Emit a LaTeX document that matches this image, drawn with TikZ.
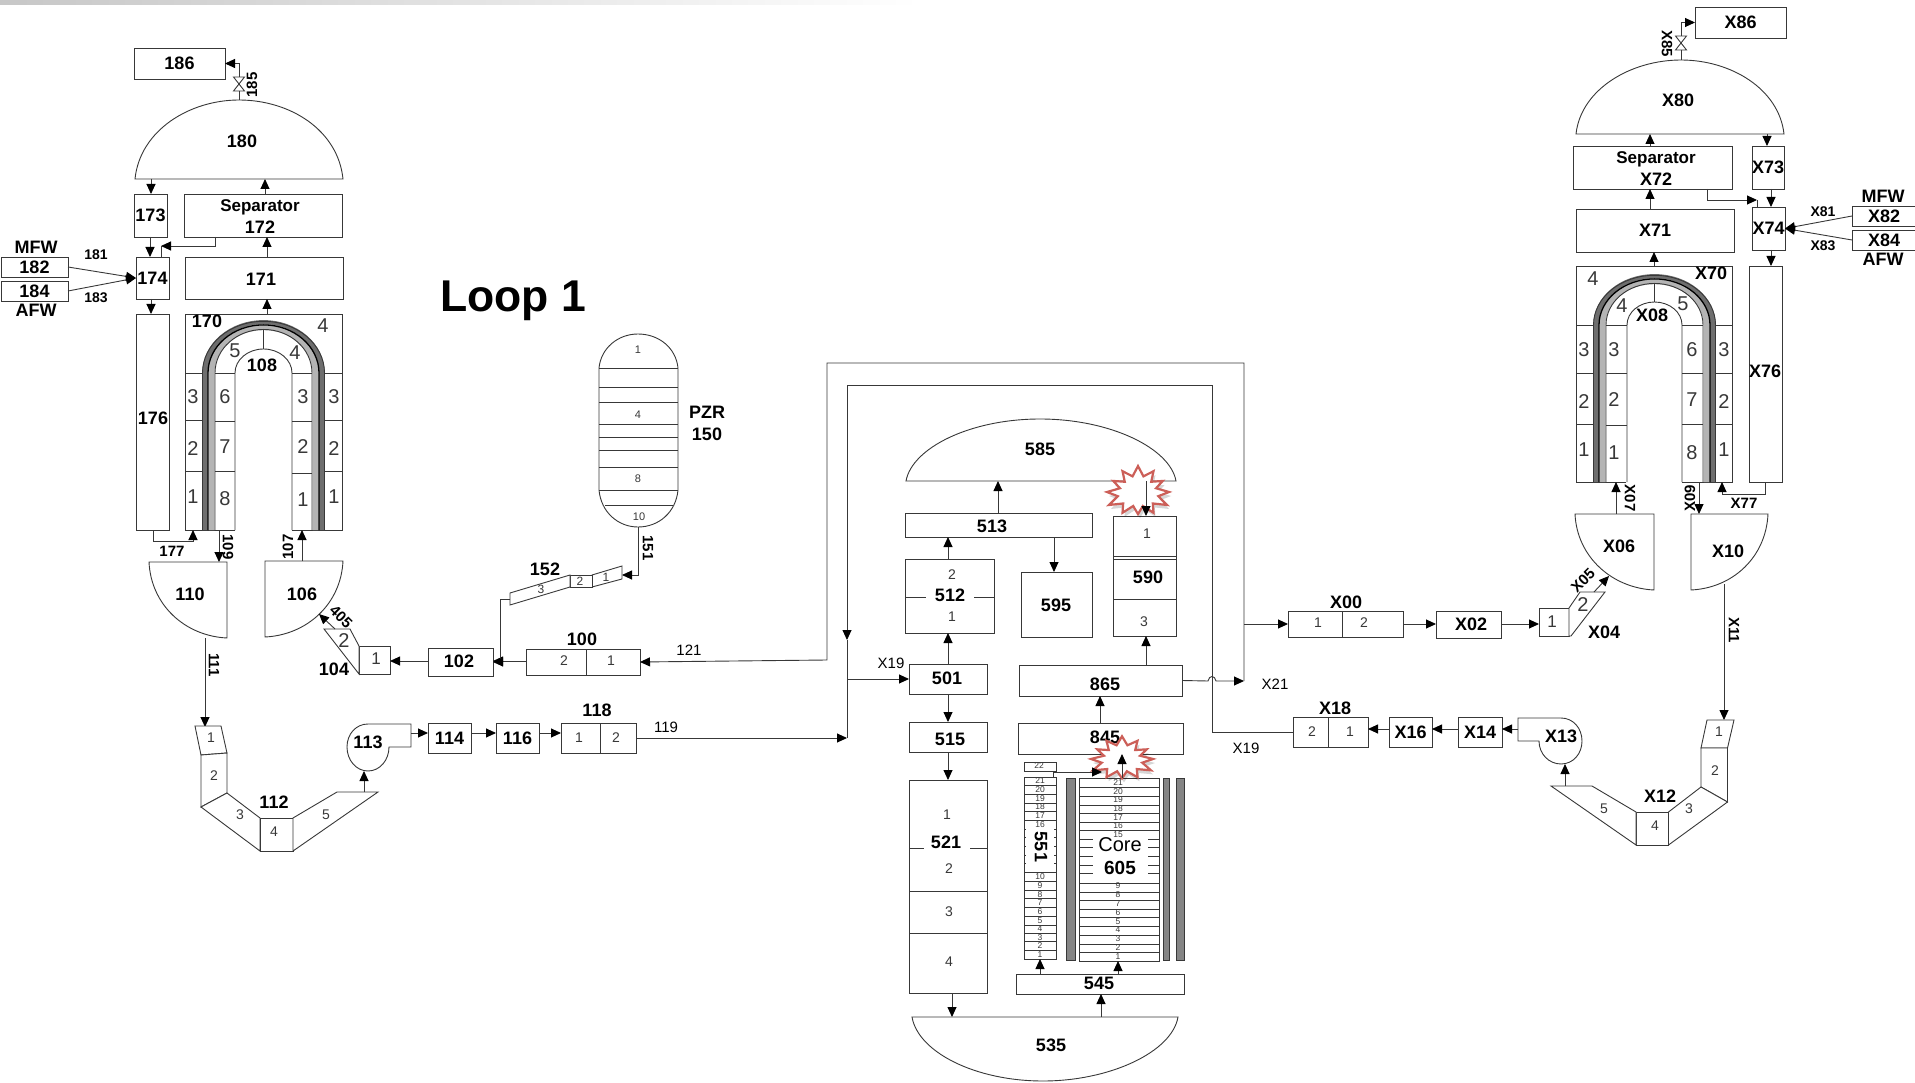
\documentclass[tikz,border=0pt]{standalone}
\usepackage{fontspec}
\setmainfont{Liberation Sans}
\usetikzlibrary{arrows.meta,calc}
\definecolor{ink}{HTML}{383838}
\definecolor{darkbar}{HTML}{858585}
\definecolor{tubedark}{HTML}{6E6E6E}
\definecolor{lightbar}{HTML}{B4B4B4}
\definecolor{burstred}{HTML}{CC5F58}
\newcounter{lblc}
\tikzset{
 ln/.style={draw=ink,line width=0.9pt},
 arr/.style={ln,-{Triangle[length=10pt,width=9pt,color=black]}},
 bxs/.style={draw=ink,line width=0.9pt,fill=white,inner sep=0pt,outer sep=0pt,text=black,font=\fontsize{18}{20}\selectfont\bfseries},
 gst/.style={inner sep=0pt,outer sep=0pt,text=black,font=\fontsize{18}{20}\selectfont\bfseries},
 lb/.style={inner sep=0pt,text=black,font=\fontsize{18}{20}\selectfont\bfseries},
 lbs/.style={inner sep=0pt,text=black,font=\fontsize{17}{20}\selectfont\bfseries},
 lsm/.style={inner sep=0pt,text=black,font=\fontsize{15}{16}\selectfont\bfseries},
 lfw/.style={inner sep=0pt,text=black,font=\fontsize{14}{16}\selectfont\bfseries},
 lrg/.style={inner sep=0pt,text=black,font=\fontsize{15}{16}\selectfont},
 lnum/.style={inner sep=0pt,text=ink,font=\fontsize{14}{16}\selectfont},
 lcell/.style={inner sep=0pt,text=ink,font=\fontsize{20}{22}\selectfont},
 lpzr/.style={inner sep=0pt,text=ink,font=\fontsize{11}{13}\selectfont},
 ltiny/.style={inner sep=0pt,text=ink,font=\fontsize{8.5}{9}\selectfont},
 lcore/.style={inner sep=0pt,text=black,font=\fontsize{20}{24}\selectfont},
 lcoreb/.style={inner sep=0pt,text=black,font=\fontsize{19}{24}\selectfont\bfseries},
 lloop/.style={inner sep=0pt,text=black,font=\fontsize{44.5}{46}\selectfont\bfseries},
 burstst/.style={draw=burstred,line width=2.2pt,fill=white,line join=miter},
 burstsh/.style={fill=black,opacity=0.16},
}
% box: name x0 y0 x1 y1 text
\newcommand\bx[6]{\node[bxs,minimum width={#4-#2},minimum height={#5-#3}] (#1) at ({(#2+#4)/2},{(#3+#5)/2}) {\makebox[0pt]{#6}};}
% invisible frame of a drawn shape, so that connectors can name it
\newcommand\gh[6]{\node[gst,minimum width={#4-#2},minimum height={#5-#3}] (#1) at ({(#2+#4)/2},{(#3+#5)/2}) {\makebox[0pt]{#6}};}
\newcommand\tx[4][lb]{\stepcounter{lblc}\node[#1] (t\arabic{lblc}) at ({#2},{#3}) {#4};}
\newcommand\vc[3]{\draw[arr] (#1,0 |- #2) -- (#1,0 |- #3);}
\newcommand\hc[3]{\draw[arr] (#2 |- 0,#1) -- (#3 |- 0,#1);}
\newcommand\tube[7]{%
 \pgfmathsetmacro\tbA{#1+#6}\pgfmathsetmacro\tbB{#2-#6}\pgfmathsetmacro\tbT{#3+#6*0.65}%
 \pgfmathsetmacro\tbM{(#1+#2)/2}\pgfmathsetmacro\tbK{(\tbB-\tbA)/2*0.5523}\pgfmathsetmacro\tbL{(#4-\tbT)*0.5523}%
 \draw[#7] (\tbA,#5) -- (\tbA,#4) .. controls (\tbA,{#4-\tbL}) and ({\tbM-\tbK},\tbT) .. (\tbM,\tbT)
   .. controls ({\tbM+\tbK},\tbT) and (\tbB,{#4-\tbL}) .. (\tbB,#4) -- (\tbB,#5);}
\newcommand\uband[5]{%
 \tube{#1}{#2}{#3}{#4}{#5}{3.2}{draw=tubedark,line width=6pt}
 \tube{#1}{#2}{#3}{#4}{#5}{9.5}{draw=lightbar,line width=6pt}
 \tube{#1}{#2}{#3}{#4}{#5}{0.5}{ln}
 \tube{#1}{#2}{#3}{#4}{#5}{6}{draw=black,line width=1.3pt}
 \tube{#1}{#2}{#3}{#4}{#5}{13}{ln}}
\newcommand\burst[4]{%
 \fill[burstsh] plot[samples at={0,15,...,345},variable=\a] ({#1+2+#3*(1-0.36*mod(round(\a/15),2))*(1+0.08*sin(3*\a))*cos(\a)},{#2+4+#4*(1-0.36*mod(round(\a/15),2))*(1+0.08*sin(3*\a))*sin(\a)}) -- cycle;
 \draw[burstst] plot[samples at={0,15,...,345},variable=\a] ({#1+#3*(1-0.36*mod(round(\a/15),2))*(1+0.08*sin(3*\a))*cos(\a)},{#2+#4*(1-0.36*mod(round(\a/15),2))*(1+0.08*sin(3*\a))*sin(\a)}) -- cycle;}
\newcommand\valve[3]{\draw[ln,fill=white] ({#1-5.5},#2) -- ({#1+5.5},#2) -- ({#1-5.5},#3) -- ({#1+5.5},#3) -- cycle;}
\begin{document}
\begin{tikzpicture}[x=1pt,y=-1pt]
\useasboundingbox (0,0) rectangle (1915,1083);
\shade[left color=black!22,right color=white] (0,0) rectangle (920,5);
\tx[lloop]{513}{301}{Loop 1}

%% ---------- left steam generator ----------
\bx{n186}{134}{48}{225}{79}{186}
\gh{n180}{135}{100}{343}{179}{}
\draw[ln,fill=white] (135,179) .. controls (140,130) and (190,100) .. (239,100) .. controls (290,100) and (338,130) .. (343,179) -- cycle;
\tx{242}{141}{180}
\valve{239}{77}{91}
\coordinate (v185t) at (239,77); \coordinate (v185b) at (239,91);
\draw[ln] (v185b) -- (239,0 |- n180.north);
\draw[arr] (v185t) |- (n186.east);
\tx[lsm,rotate=90]{252}{85}{185}
\bx{n173}{134}{194}{167}{237}{173}
\bx{n172}{184}{194}{342}{237}{}
\tx[lbs]{260}{207}{Separator}
\tx[lb]{260}{227}{172}
\bx{n174}{136}{257}{169}{299}{174}
\bx{n171}{185}{257}{343}{299}{}
\tx{261}{279}{171}
\bx{n176}{136}{314}{169}{530}{}
\tx{153}{418}{176}
\bx{n182}{1}{257}{68}{277}{182}
\bx{n184}{1}{281}{68}{301}{184}
\tx{36}{247}{MFW}
\tx{36}{310}{AFW}
\tx[lfw]{96}{255}{181}
\tx[lfw]{96}{298}{183}
\draw[arr] (n182.east) -- (n174.west);
\draw[arr] (n184.east) -- (n174.west);
\vc{150}{n173.south}{n174.north}
\coordinate (c172) at (161,246);
\draw[arr] (215,0 |- n172.south) |- (c172);
\draw[ln] (c172) -- (161,0 |- n174.north);
\vc{151}{n180.south}{n173.north}
\vc{265}{n172.north}{n180.south}
\vc{267}{n171.north}{n172.south}
\vc{151}{n174.south}{n176.north}
% 170
\gh{n170}{185}{314}{342}{530}{}
\vc{267}{n170.north}{n171.south}
\draw[ln] (235,530) -- (185,530) -- (185,314) -- (342,314) -- (342,530) -- (292,530);
\uband{202}{325}{321}{373}{530}
\tube{235}{292}{349}{373}{530}{0}{ln}
\draw[ln] (263,330) -- (263,349);
\foreach \yy in {373,420,471}{\draw[ln] (185,\yy) -- (202,\yy); \draw[ln] (325,\yy) -- (342,\yy);}
\foreach \yy in {373,421,471}{\draw[ln] (215,\yy) -- (235,\yy);}
\foreach \yy in {373,421,473}{\draw[ln] (292,\yy) -- (312,\yy);}
\tx{207}{321}{170}
\tx[lcell]{323}{326}{4}
\tx[lcell]{235}{351}{5}
\tx[lcell]{295}{353}{4}
\tx{262}{365}{108}
\foreach \t/\yy in {3/397,2/449,1/497}{\tx[lcell]{193}{\yy}{\t}\tx[lcell]{334}{\yy}{\t}}
\foreach \t/\yy in {6/397,7/447,8/499}{\tx[lcell]{225}{\yy}{\t}}
\foreach \t/\yy in {3/397,2/447,1/500}{\tx[lcell]{303}{\yy}{\t}}
% 177
\coordinate (c177a) at (153,541); \coordinate (c177b) at (193,541);
\draw[arr] (153,0 |- n176.south) -- (c177a) -- (c177b) -- (193,0 |- n170.south);
\tx[lsm]{172}{551}{177}
% 110 / 106
\gh{n110}{149}{562}{227}{638}{}
\draw[ln,fill=white] (149,562) -- (227,562) -- (227,638) .. controls (185,636) and (151,605) .. cycle;
\tx{190}{594}{110}
\gh{n106}{265}{561}{343}{637}{}
\draw[ln,fill=white] (343,561) -- (265,561) -- (265,637) .. controls (307,635) and (341,604) .. cycle;
\tx{302}{594}{106}
\vc{219}{n170.south}{n110.north}
\vc{302}{n106.north}{n170.south}
\tx[lsm,rotate=-90]{228}{547}{109}
\tx[lsm,rotate=90]{288}{547}{107}
\coordinate (p1t) at (205,727);
\vc{205}{n110.south}{p1t}
\tx[lsm,rotate=-90]{214}{665}{111}

%% ---------- 112 ----------
\draw[ln,fill=white] (195,726) -- (221,726) -- (227,753) -- (201,755) -- cycle;
\draw[ln,fill=white] (201,755) -- (227,753) -- (227,793) -- (201,807) -- cycle;
\draw[ln,fill=white] (201,807) -- (227,793) -- (260,818) -- (260,851) -- cycle;
\bx{n1124}{260}{818}{293}{851}{}
\draw[ln,fill=white] (293,818) -- (337,792) -- (378,792) -- (293,851) -- cycle;
\tx[lnum]{211}{738}{1}
\tx[lnum]{214}{776}{2}
\tx[lnum]{240}{815}{3}
\tx[lnum]{274}{832}{4}
\tx[lnum]{326}{815}{5}
\tx{274}{802}{112}
\coordinate (p5t) at (364,792);
% 113
\gh{n113}{347}{724}{411}{771}{}
\draw[ln,fill=white] (411,724) -- (368,724) .. controls (356,724) and (347,734) .. (347,747) .. controls (347,760) and (356,771) .. (368,771) .. controls (380,771) and (389,760) .. (389,747) -- (411,747) -- cycle;
\tx{368}{742}{113}
\vc{364}{p5t}{n113.south}
\bx{n114}{428}{723}{471}{753}{114}
\bx{n116}{496}{723}{539}{753}{116}
\bx{n118}{561}{723}{636}{753}{}
\draw[ln] (600,723) -- (600,753);
\tx[lnum]{579}{738}{1}
\tx[lnum]{616}{738}{2}
\tx{597}{710}{118}
\hc{733}{n113.east}{n114.west}
\hc{733}{n114.east}{n116.west}
\hc{733}{n116.east}{n118.west}
\tx[lrg]{666}{727}{119}

%% ---------- 104, 102, 100, 152, pressurizer ----------
\bx{n104}{359}{646}{390}{674}{}
\draw[ln,fill=white] (324,629) -- (350,629) -- (359,646) -- (359,674) -- cycle;
\tx[lcell]{344}{641}{2}
\tx[lnum,font=\fontsize{17}{18}\selectfont]{376}{659}{1}
\tx{334}{669}{104}
\coordinate (c405) at (335,629); \coordinate (c405t) at (319,614);
\draw[arr] (c405) -- (c405t);
\tx[lsm,rotate=-45]{341}{617}{405}
\bx{n102}{428}{648}{493}{676}{}
\tx{459}{661}{102}
\bx{n100}{526}{649}{640}{675}{}
\draw[ln] (586,649) -- (586,675);
\tx[lnum]{564}{661}{2}
\tx[lnum]{611}{661}{1}
\tx{582}{639}{100}
\hc{661}{n102.west}{n104.east}
\hc{661}{n100.west}{n102.east}
\draw[ln,fill=white] (592,575) -- (622,566) -- (622,579) -- (592,587) -- cycle;
\bx{n1522}{570}{575}{592}{587}{}
\draw[ln,fill=white] (510,593) -- (570,575) -- (570,587) -- (510,605) -- cycle;
\tx[lnum,font=\fontsize{12}{13}\selectfont]{606}{577}{1}
\tx[lnum,font=\fontsize{12}{13}\selectfont]{580}{581}{2}
\tx[lnum,font=\fontsize{12}{13}\selectfont]{541}{589}{3}
\tx{545}{569}{152}
\coordinate (c152l) at (510,599); \coordinate (c152r) at (622,575);
\draw[ln] (c152l) -- (500,599) -- (500,662);
\draw[arr] (500,662) -- (n102.east);
% PZR
\gh{n150}{599}{334}{678}{527}{}
\draw[ln,fill=white] (599,368) .. controls (601,348) and (618,334) .. (638,334) .. controls (659,334) and (676,348) .. (678,368) -- (678,490) .. controls (676,512) and (659,527) .. (638,527) .. controls (618,527) and (601,512) .. (599,490) -- cycle;
\foreach \yy in {368,387,402,424,437,450,467,490}{\draw[ln] (599,\yy) -- (678,\yy);}
\draw[ln] (605,505) -- (673,505);
\tx[lpzr]{638}{350}{1}
\tx[lpzr]{638}{415}{4}
\tx[lpzr]{638}{479}{8}
\tx[lpzr]{639}{517}{10}
\tx{707}{412}{PZR}
\tx{707}{434}{150}
\draw[arr] (n150.south) |- (c152r);
\tx[lsm,rotate=-90]{648}{548}{151}
\tx[lrg]{689}{650}{121}
\tx[lrg]{891}{663}{X19}
\tx[lrg]{1275}{684}{X21}
\tx[lrg]{1246}{748}{X19}

%% ---------- reactor vessel ----------
\gh{n585}{906}{419}{1176}{481}{}
\draw[ln,fill=white] (906,481) .. controls (912,448) and (970,419) .. (1040,419) .. controls (1110,419) and (1170,448) .. (1176,481) -- cycle;
\tx{1040}{449}{585}
\bx{n513}{905}{513}{1092}{537}{}
\tx{992}{526}{513}
\bx{n512}{905}{559}{994}{633}{}
\draw[ln] (905,597) -- (926,597) (974,597) -- (994,597);
\tx[lnum]{952}{575}{2}
\tx{950}{595}{512}
\tx[lnum]{952}{617}{1}
\bx{n595}{1021}{572}{1092}{637}{}
\tx{1056}{605}{595}
\bx{n590}{1113}{516}{1176}{636}{}
\draw[ln] (1113,556) -- (1176,556) (1113,559) -- (1176,559) (1113,599) -- (1176,599);
\tx[lnum]{1147}{534}{1}
\tx{1148}{577}{590}
\tx[lnum]{1144}{622}{3}
\bx{n865}{1019}{665}{1182}{696}{}
\tx{1105}{684}{865}
\bx{n845}{1018}{723}{1183}{754}{}
\tx{1105}{737}{845}
\bx{n501}{909}{664}{987}{694}{}
\tx{947}{678}{501}
\bx{n515}{909}{722}{987}{752}{}
\tx{950}{739}{515}
\bx{n521}{909}{780}{987}{993}{}
\draw[ln] (909,848) -- (924,848) (970,848) -- (987,848) (909,891) -- (987,891) (909,933) -- (987,933);
\tx[lnum]{947}{815}{1}
\tx{946}{842}{521}
\tx[lnum]{949}{869}{2}
\tx[lnum]{949}{912}{3}
\tx[lnum]{949}{962}{4}
\gh{n535}{912}{1017}{1178}{1081}{}
\draw[ln,fill=white] (912,1017) -- (1178,1017) .. controls (1172,1052) and (1110,1081) .. (1043,1081) .. controls (975,1081) and (918,1052) .. cycle;
\tx{1051}{1045}{535}
\bx{n545}{1016}{974}{1184}{994}{}
\tx{1099}{983}{545}
% 551
\bx{n55122}{1024}{762}{1056}{771}{}
\tx[ltiny]{1039}{766}{22}
\gh{n551}{1024}{777}{1056}{959}{}
\draw[ln] (1024,777) rectangle (1056,959);
\foreach \z in {137,163,189,215,241,397,423,450,476,503,530,556,580,605,630}{\draw[ln] (1024,{740+\z/3}) -- (1056,{740+\z/3});}
\foreach \z in {267,293,319,345,371}{\draw[ln] (1024,{740+\z/3}) -- (1026,{740+\z/3}) (1054,{740+\z/3}) -- (1056,{740+\z/3});}
\foreach \z/\t in {122/21,150/20,175/19,200/18,228/17,254/16,410/10,437/9,463/8,489/7,516/6,542/5,566/4,592/3,617/2,643/1}{\tx[ltiny]{1040}{740+\z/3}{\t}}
\tx[lb,rotate=-90]{1041}{847}{551}
% bars
\fill[darkbar,draw=ink] (1066,778) rectangle (1075,960);
\fill[darkbar,draw=ink] (1163,778) rectangle (1169,960);
\fill[darkbar,draw=ink] (1176,778) rectangle (1184,960);
% core
\gh{n605}{1079}{778}{1159}{961}{}
\draw[ln] (1079,778) rectangle (1159,961);
\foreach \z in {142,168,195,220,246,272,429,456,481,507,533,560,586,612,637}{\draw[ln] (1079,{740+\z/3}) -- (1159,{740+\z/3});}
\foreach \z in {297,323,349,375,401}{\draw[ln] (1079,{740+\z/3}) -- (1093,{740+\z/3}) (1148,{740+\z/3}) -- (1159,{740+\z/3});}
\foreach \z/\t in {128/21,155/20,180/19,207/18,232/17,258/16,285/15,437/9,465/8,492/7,518/6,544/5,570/4,597/3,622/2,650/1}{\tx[ltiny]{1118}{740+\z/3}{\t}}
\tx[lcore]{1120}{845}{Core}
\tx[lcoreb]{1120}{868}{605}
% bursts
\burst{1138}{492}{31}{24}
\burst{1122}{759}{31}{21}
% vessel connectors
\vc{998}{n513.north}{n585.south}
\vc{948}{n512.north}{n513.south}
\vc{1054}{n513.south}{n595.north}
\vc{948}{n501.north}{n512.south}
\vc{948}{n501.south}{n515.north}
\vc{948}{n515.south}{n521.north}
\vc{952}{n521.south}{n535.north}
\vc{1101}{n535.north}{n545.south}
\vc{1146}{n585.south}{n590.north}
\vc{1146}{n865.north}{n590.south}
\vc{1100}{n845.north}{n865.south}
\vc{1040}{n545.north}{n551.south}
\vc{1118}{n545.north}{n605.south}
\vc{1122}{n605.north}{n845.south}
\coordinate (c22) at (1053,772);
\draw[ln] (1053,0 |- n551.north) -- (1053,0 |- n55122.south);
\draw[arr] (c22) -- (1102,772);

%% ---------- right steam generator ----------
\bx{nX86}{1695}{7}{1786}{38}{X86}
\gh{nX80}{1576}{60}{1784}{134}{}
\draw[ln,fill=white] (1576,134) .. controls (1581,89) and (1631,60) .. (1681,60) .. controls (1731,60) and (1779,89) .. (1784,134) -- cycle;
\tx{1678}{100}{X80}
\valve{1681}{36}{50}
\coordinate (vX85t) at (1681,36); \coordinate (vX85b) at (1681,50);
\draw[ln] (vX85b) -- (1681,0 |- nX80.north);
\draw[arr] (vX85t) |- (nX86.west);
\tx[lsm,rotate=-90]{1667}{44}{X85}
\bx{nX72}{1573}{146}{1732}{189}{}
\tx[lbs]{1656}{159}{Separator}
\tx{1656}{179}{X72}
\bx{nX73}{1752}{146}{1784}{189}{X73}
\bx{nX74}{1752}{207}{1785}{250}{X74}
\bx{nX71}{1576}{209}{1734}{252}{X71}
\bx{nX76}{1749}{266}{1782}{482}{}
\tx{1765}{371}{X76}
\bx{nX82}{1852}{206}{1916}{226}{X82}
\bx{nX84}{1852}{230}{1916}{250}{X84}
\tx{1883}{196}{MFW}
\tx{1883}{259}{AFW}
\tx[lfw]{1823}{212}{X81}
\tx[lfw]{1823}{246}{X83}
\draw[arr] (nX82.west) -- (nX74.east);
\draw[arr] (nX84.west) -- (nX74.east);
\vc{1767}{nX80.south}{nX73.north}
\vc{1650}{nX72.north}{nX80.south}
\vc{1650}{nX71.north}{nX72.south}
\vc{1771}{nX73.south}{nX74.north}
\vc{1771}{nX74.south}{nX76.north}
\coordinate (cX72) at (1757,200);
\draw[arr] (1707,0 |- nX72.south) |- (cX72);
\draw[ln] (cX72) -- (1757,0 |- nX74.north);
% X70
\gh{nX70}{1576}{266}{1732}{482}{}
\vc{1654}{nX70.north}{nX71.south}
\draw[ln] (1626,482) -- (1576,482) -- (1576,266) -- (1732,266) -- (1732,482) -- (1682,482);
\uband{1593}{1716}{275}{325}{482}
\tube{1627}{1682}{302}{325}{482}{0}{ln}
\draw[ln] (1654,283) -- (1654,302);
\foreach \yy in {325,373,424}{\draw[ln] (1576,\yy) -- (1593,\yy); \draw[ln] (1716,\yy) -- (1732,\yy); \draw[ln] (1682,\yy) -- (1703,\yy);}
\foreach \yy in {325,373,425}{\draw[ln] (1606,\yy) -- (1627,\yy);}
\tx[lcell]{1593}{279}{4}
\tx{1711}{273}{X70}
\tx[lcell]{1622}{306}{4}
\tx[lcell]{1683}{304}{5}
\tx{1652}{315}{X08}
\foreach \t/\yy in {3/350,2/402,1/450}{\tx[lcell]{1584}{\yy}{\t}\tx[lcell]{1724}{\yy}{\t}}
\foreach \t/\yy in {3/350,2/400,1/453}{\tx[lcell]{1614}{\yy}{\t}}
\foreach \t/\yy in {6/350,7/400,8/453}{\tx[lcell]{1692}{\yy}{\t}}
\coordinate (cX77a) at (1765,494); \coordinate (cX77b) at (1722,494);
\draw[arr] (1765,0 |- nX76.south) -- (cX77a) -- (cX77b) -- (1722,0 |- nX70.south);
\tx[lsm]{1744}{503}{X77}
% X06 / X10
\gh{nX06}{1575}{514}{1654}{590}{}
\draw[ln,fill=white] (1575,514) -- (1654,514) -- (1654,590) .. controls (1612,588) and (1577,557) .. cycle;
\tx{1619}{546}{X06}
\gh{nX10}{1691}{514}{1768}{590}{}
\draw[ln,fill=white] (1768,514) -- (1691,514) -- (1691,590) .. controls (1733,588) and (1766,557) .. cycle;
\tx{1728}{551}{X10}
\vc{1616}{nX06.north}{nX70.south}
\vc{1699}{nX70.south}{nX10.north}
\tx[lsm,rotate=-90]{1630}{498}{X07}
\tx[lsm,rotate=90]{1690}{498}{X09}
\coordinate (pX1t) at (1724,720);
\coordinate (cX10b) at (1724,584);
\draw[arr] (cX10b) -- (pX1t);
\tx[lsm,rotate=-90]{1734}{630}{X11}
% X12
\draw[ln,fill=white] (1707,720) -- (1734,720) -- (1727.5,748) -- (1701,748) -- cycle;
\draw[ln,fill=white] (1701,748) -- (1727.5,748) -- (1727.5,802) -- (1701,787) -- cycle;
\draw[ln,fill=white] (1701,787) -- (1727.5,802) -- (1668.5,845) -- (1668.5,812) -- cycle;
\bx{nX124}{1636}{812}{1668.5}{845}{}
\draw[ln,fill=white] (1636,812) -- (1592,786) -- (1551,786) -- (1636,845) -- cycle;
\tx[lnum]{1719}{732}{1}
\tx[lnum]{1715}{771}{2}
\tx[lnum]{1689}{809}{3}
\tx[lnum]{1655}{826}{4}
\tx[lnum]{1604}{809}{5}
\tx{1660}{796}{X12}
\coordinate (pX5t) at (1565,786);
% X13
\gh{nX13}{1518}{718}{1582}{764}{}
\draw[ln,fill=white] (1518,718) -- (1561,718) .. controls (1573,718) and (1582,728) .. (1582,741) .. controls (1582,754) and (1573,764) .. (1561,764) .. controls (1549,764) and (1539,754) .. (1539,741) -- (1518,741) -- cycle;
\tx{1561}{736}{X13}
\vc{1565}{pX5t}{nX13.south}
\bx{nX14}{1458}{717}{1502}{747}{X14}
\bx{nX16}{1389}{717}{1432}{747}{X16}
\bx{nX18}{1293}{717}{1368}{747}{}
\draw[ln] (1328,717) -- (1328,747);
\tx[lnum]{1312}{732}{2}
\tx[lnum]{1350}{732}{1}
\tx{1335}{708}{X18}
\hc{729}{nX13.west}{nX14.east}
\hc{729}{nX14.west}{nX16.east}
\hc{729}{nX16.west}{nX18.east}
% X00 ... X04
\bx{nX00}{1288}{611}{1403}{637}{}
\draw[ln] (1342,611) -- (1342,637);
\tx[lnum]{1318}{623}{1}
\tx[lnum]{1364}{623}{2}
\tx{1346}{602}{X00}
\bx{nX02}{1436}{611}{1501}{638}{}
\tx{1471}{624}{X02}
\bx{nX04}{1539}{608}{1569}{636}{}
\draw[ln,fill=white] (1569,608) -- (1580,592) -- (1605,592) -- (1571,636) -- (1569,636) -- cycle;
\tx[lcell]{1583}{605}{2}
\tx[lnum,font=\fontsize{17}{18}\selectfont]{1552}{622}{1}
\tx{1604}{632}{X04}
\coordinate (cX05) at (1594,592); \coordinate (cX05t) at (1609,576);
\draw[arr] (cX05) -- (cX05t);
\tx[lsm,rotate=45]{1583}{580}{X05}
\hc{624}{nX00.east}{nX02.west}
\hc{624}{nX02.east}{nX04.west}

%% ---------- hot and cold legs ----------
\coordinate (cH) at (1244,681);
\coordinate (cHt) at (1244,363);
\coordinate (cHl) at (827,363);
\coordinate (cHb) at (827,660);
\coordinate (cC) at (1212,732);
\coordinate (cCt) at (1212,385);
\coordinate (cCl) at (847,385);
\coordinate (cCm) at (847,640);
\coordinate (cCb) at (847,738);
\draw[arr] (cH) -- (cHt) -- (cHl) -- (cHb) -- (n100.east);
\draw[arr] (n118.east) -- (cCb);
\draw[arr] (cCt) -- (cCl) -- (cCm);
\draw[ln] (cCm) -- (cCb);
\draw[ln] (nX18.west) -- (cC) -- (cCt);
\hc{679}{cCm}{n501.west}
\draw[arr] (n865.east) -- (1208,681) .. controls (1209,675) and (1215,675) .. (1216,681) -- (cH);
\hc{624}{cH}{nX00.west}
\end{tikzpicture}
\end{document}
